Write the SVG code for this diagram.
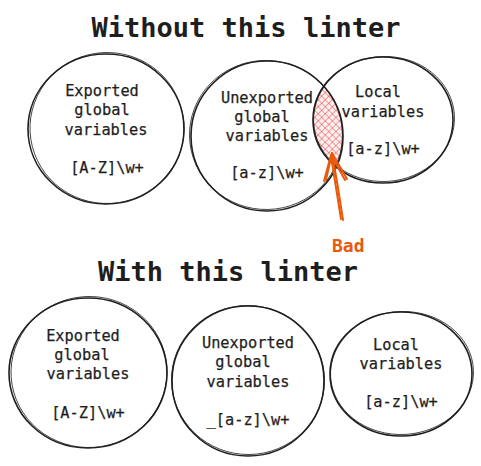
<svg xmlns="http://www.w3.org/2000/svg" width="481" height="466" viewBox="0 0 481 466">
<style>
.title{font-family:"DejaVu Sans Mono","Liberation Mono",monospace;font-weight:bold;font-size:27px;fill:#1e1e1e;text-anchor:middle}
.lbl{font-family:"DejaVu Sans Mono","Liberation Mono",monospace;font-size:15.3px;fill:#1e1e1e;stroke:#1e1e1e;stroke-width:0.25;text-anchor:middle}
.c{fill:none;stroke:#1e1e1e;stroke-width:1.6}
.c2{fill:none;stroke:#1e1e1e;stroke-width:0.8}
.bad{font-family:"DejaVu Sans Mono","Liberation Mono",monospace;font-weight:bold;font-size:18px;fill:#e8590c}
.arr{fill:none;stroke:#e8590c;stroke-width:2;stroke-linecap:round;stroke-linejoin:round}
</style>
<defs>
<pattern id="hatch" width="5" height="5" patternUnits="userSpaceOnUse" patternTransform="rotate(45)">
<rect width="5" height="5" fill="#fff0f0"/>
<path d="M0 0V5M0 0H5" stroke="#e03131" stroke-width="0.9" fill="none"/>
</pattern>
<clipPath id="clipLocal"><ellipse cx="383" cy="120" rx="70" ry="63"/></clipPath>
</defs>
<rect width="481" height="466" fill="#ffffff"/>
<text class="title" x="246" y="37">Without this linter</text>
<text class="title" x="228" y="281">With this linter</text>

<g id="overlap">
<ellipse cx="267" cy="136" rx="76" ry="75" fill="url(#hatch)" clip-path="url(#clipLocal)"/>
</g>

<g id="top-exported">
<ellipse class="c" cx="106" cy="129" rx="78" ry="75"/>
<ellipse class="c2" cx="107" cy="128" rx="77" ry="75.5" transform="rotate(-3 107 128)"/>
<text class="lbl" x="102" y="96">Exported</text>
<text class="lbl" x="102" y="115">global</text>
<text class="lbl" x="106" y="135">variables</text>
<text class="lbl" x="107" y="173">[A-Z]\w+</text>
</g>

<g id="top-unexported">
<ellipse class="c" cx="267" cy="136" rx="76" ry="75"/>
<ellipse class="c2" cx="266" cy="135" rx="76.5" ry="74.5" transform="rotate(4 266 135)"/>
<text class="lbl" x="267" y="103">Unexported</text>
<text class="lbl" x="262" y="122">global</text>
<text class="lbl" x="267" y="141">variables</text>
<text class="lbl" x="267" y="178">[a-z]\w+</text>
</g>

<g id="top-local">
<ellipse class="c" cx="383" cy="120" rx="70" ry="63"/>
<ellipse class="c2" cx="384" cy="119" rx="70.5" ry="62.5" transform="rotate(-3 384 119)"/>
<text class="lbl" x="378" y="97">Local</text>
<text class="lbl" x="383" y="117">variables</text>
<text class="lbl" x="383" y="154">[a-z]\w+</text>
</g>

<g id="bottom-exported">
<ellipse class="c" cx="88" cy="373" rx="79" ry="75"/>
<ellipse class="c2" cx="89" cy="372" rx="78" ry="75.5" transform="rotate(-4 89 372)"/>
<text class="lbl" x="83" y="341">Exported</text>
<text class="lbl" x="82" y="360">global</text>
<text class="lbl" x="88" y="379">variables</text>
<text class="lbl" x="88" y="418">[A-Z]\w+</text>
</g>

<g id="bottom-unexported">
<ellipse class="c" cx="248" cy="381" rx="76" ry="75"/>
<ellipse class="c2" cx="248" cy="380" rx="76.5" ry="74.5" transform="rotate(5 248 380)"/>
<text class="lbl" x="248" y="348">Unexported</text>
<text class="lbl" x="243" y="367">global</text>
<text class="lbl" x="248" y="387">variables</text>
<text class="lbl" x="248" y="425">_[a-z]\w+</text>
</g>

<g id="bottom-local">
<ellipse class="c" cx="401" cy="374" rx="71" ry="62"/>
<ellipse class="c2" cx="402" cy="373" rx="71.5" ry="61.5" transform="rotate(-3 402 373)"/>
<text class="lbl" x="396" y="350">Local</text>
<text class="lbl" x="401" y="369">variables</text>
<text class="lbl" x="401" y="407">[a-z]\w+</text>
</g>

<g id="connectors">
<path class="arr" d="M343 220 Q338 186 332 153"/>
<path class="arr" d="M326 180 L332 153 L347 179"/>
<path class="arr" stroke-width="1" d="M341 219 Q336 187 331 156 M324 181 L331 155 L345 180"/>
</g>
<g id="label-bad">
<text class="bad" x="332" y="252">Bad</text>
</g>
</svg>
